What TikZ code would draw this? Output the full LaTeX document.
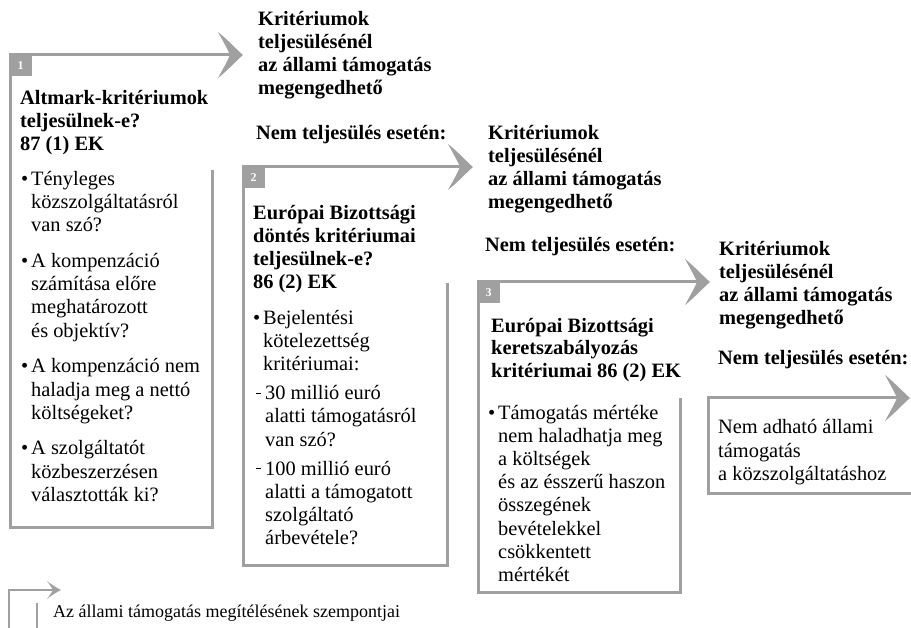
\documentclass[tikz,border=0pt]{standalone}
\usepackage{fontspec}
\setmainfont{Liberation Serif}
\definecolor{lg}{HTML}{A0A0A0}
\begin{document}
\begin{tikzpicture}[x=1pt,y=-1pt,
  frame/.style={draw=lg, line width=3pt, line join=miter},
  thin/.style={draw=lg, line width=2pt, line join=miter},
  ttl/.style={anchor=base west, inner sep=0pt, align=left, font=\fontsize{20.4}{23}\selectfont\bfseries},
  bdy/.style={anchor=base west, inner sep=0pt, align=left, font=\fontsize{20.4}{23.2}\selectfont},
  tab/.style={fill=lg, inner sep=0pt, anchor=north west, minimum width=23pt, minimum height=22pt},
  num/.style={inner sep=0pt, text=white, font=\fontsize{12}{12}\selectfont\bfseries},
  ahead/.pic={\fill[lg] (0,0) .. controls (-6,5) and (-16,16) .. (-25,23)
        .. controls (-20,14) and (-15,5) .. (-13,0)
        .. controls (-15,-5) and (-20,-14) .. (-25,-23)
        .. controls (-16,-16) and (-6,-5) .. (0,0) -- cycle;},
  sahead/.pic={\fill[lg] (0,0) .. controls (-4,2) and (-9,5) .. (-14,9)
        .. controls (-11,5) and (-9,2) .. (-8,0)
        .. controls (-9,-2) and (-11,-5) .. (-14,-9)
        .. controls (-9,-5) and (-4,-2) .. (0,0) -- cycle;}
]
\useasboundingbox (0,0) rectangle (911,628);
\newcommand\bul{\llap{\textbullet\hspace{3pt}}}
\newcommand\dsh{\llap{\rule[6pt]{5pt}{0.8pt}\hspace{4pt}}}
% multi-line nodes are placed by the baseline of their LAST line

% ---------- box 1 ----------
\coordinate (a1) at (243,55);
\coordinate (b1tl) at (10,55);
\coordinate (b1bl) at (10,527);
\coordinate (b1br) at (212,527);
\coordinate (b1rs) at (212,170);
\draw[frame, shorten <=12pt] (a1) -- (b1tl) -- (b1bl) -- (b1br) -- (b1rs);
\pic at (a1) {ahead};
\node[tab] (t1) at (8.5,53.5) {};
\node[num] (n1) at (20.5,66) {1};
\node[ttl] (h1) at (20,151) {Altmark-kritériumok\\teljesülnek-e?\\87 (1) EK};
\node[bdy, font=\fontsize{20.4}{23.3}\selectfont] (l1) at (31,501.5) {\bul Tényleges\\közszolgáltatásról\\van szó?\\[12.3pt]
  \bul A kompenzáció\\számítása előre\\meghatározott\\és objektív?\\[12.3pt]
  \bul A kompenzáció nem\\haladja meg a nettó\\költségeket?\\[12.3pt]
  \bul A szolgáltatót\\közbeszerzésen\\választották ki?};

% ---------- outcome 1 ----------
\node[ttl] (k1) at (258,95) {Kritériumok\\teljesülésénél\\az állami támogatás\\megengedhető};
\node[ttl] (nt1) at (256,140) {Nem teljesülés esetén:};

% ---------- box 2 ----------
\coordinate (a2) at (473,167);
\coordinate (b2tl) at (243,167);
\coordinate (b2bl) at (243,565);
\coordinate (b2br) at (447,565);
\coordinate (b2rs) at (447,283);
\draw[frame, shorten <=12pt] (a2) -- (b2tl) -- (b2bl) -- (b2br) -- (b2rs);
\pic at (a2) {ahead};
\node[tab] (t2) at (241.5,165.5) {};
\node[num] (n2) at (253.5,178) {2};
\node[ttl] (h2) at (253,289) {Európai Bizottsági\\döntés kritériumai\\teljesülnek-e?\\86 (2) EK};
\node[bdy] (l2) at (263,544.8) {\bul Bejelentési\\kötelezettség\\kritériumai:\\[6pt]
  \hspace{2pt}\dsh 30 millió euró\\\hspace{2pt}alatti támogatásról\\\hspace{2pt}van szó?\\[6pt]
  \hspace{2pt}\dsh 100 millió euró\\\hspace{2pt}alatti a támogatott\\\hspace{2pt}szolgáltató\\\hspace{2pt}árbevétele?};

% ---------- outcome 2 ----------
\node[ttl] (k2) at (488,209) {Kritériumok\\teljesülésénél\\az állami támogatás\\megengedhető};
\node[ttl] (nt2) at (485,252) {Nem teljesülés esetén:};

% ---------- box 3 ----------
\coordinate (a3) at (710,282);
\coordinate (b3tl) at (478,282);
\coordinate (b3bl) at (478,592);
\coordinate (b3br) at (680,592);
\coordinate (b3rs) at (680,398);
\draw[frame, shorten <=12pt] (a3) -- (b3tl) -- (b3bl) -- (b3br) -- (b3rs);
\pic at (a3) {ahead};
\node[tab] (t3) at (476.5,280.5) {};
\node[num] (n3) at (488.5,293) {3};
\node[ttl] (h3) at (491,378) {Európai Bizottsági\\keretszabályozás\\kritériumai 86 (2) EK};
\node[bdy] (l3) at (498,581.4) {\bul Támogatás mértéke\\nem haladhatja meg\\a költségek\\és az ésszerű haszon\\összegének\\bevételekkel\\csökkentett\\mértékét};

% ---------- outcome 3 ----------
\node[ttl] (k3) at (719,325) {Kritériumok\\teljesülésénél\\az állami támogatás\\megengedhető};
\node[ttl] (nt3) at (718,365) {Nem teljesülés esetén:};

% ---------- box 4 ----------
\coordinate (a4) at (910,398);
\coordinate (b4tl) at (708,398);
\coordinate (b4bl) at (708,493);
\coordinate (b4br) at (915,493);
\draw[frame, shorten <=12pt] (a4) -- (b4tl) -- (b4bl) -- (b4br);
\pic at (a4) {ahead};
\node[bdy] (l4) at (718,480.4) {Nem adható állami\\támogatás\\a közszolgáltatáshoz};

% ---------- legend ----------
\coordinate (la) at (61,590);
\coordinate (lc) at (9,590);
\coordinate (lb) at (9,632);
\coordinate (ld) at (37,603);
\coordinate (le) at (37,632);
\draw[thin, shorten <=6pt] (la) -- (lc) -- (lb);
\pic at (la) {sahead};
\draw[thin] (ld) -- (le);
\node[bdy, font=\fontsize{18}{20}\selectfont] (lt) at (53,617) {Az állami támogatás megítélésének szempontjai};
\end{tikzpicture}
\end{document}
